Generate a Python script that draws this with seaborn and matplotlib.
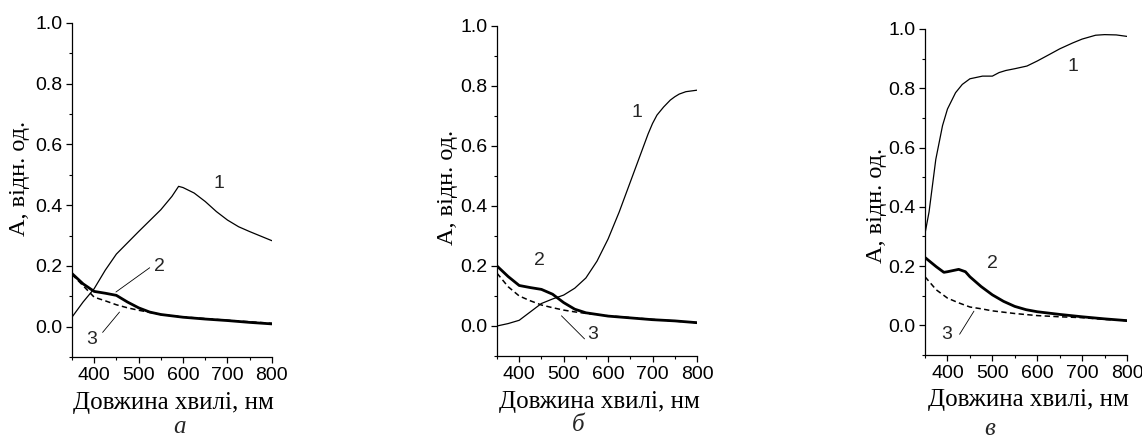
import numpy as np
import pandas as pd
import matplotlib
matplotlib.use('Agg')
import matplotlib.pyplot as plt
from matplotlib.ticker import MultipleLocator, FormatStrFormatter
import seaborn as sns

# ---- data (wavelength, nm / absorbance) ----
wl_a1 = [350, 375, 400, 425, 450, 475, 500, 525, 550, 575, 590, 600, 625, 650, 675, 700, 725, 750, 775, 800]
a1 = [0.031, 0.081, 0.125, 0.186, 0.239, 0.276, 0.313, 0.349, 0.385, 0.429, 0.462, 0.458, 0.44, 0.412, 0.379, 0.351, 0.329, 0.313, 0.298, 0.283]
wl_a2 = [350, 375, 400, 425, 450, 475, 500, 525, 550, 600, 650, 700, 750, 800]
a2 = [0.175, 0.141, 0.116, 0.110, 0.103, 0.081, 0.062, 0.048, 0.040, 0.031, 0.025, 0.020, 0.014, 0.009]
wl_a3 = [350, 375, 400, 425, 450, 475, 500, 525, 550, 600, 700, 800]
a3 = [0.172, 0.135, 0.097, 0.085, 0.072, 0.062, 0.054, 0.047, 0.040, 0.032, 0.021, 0.011]

wl_b1 = [350, 375, 400, 425, 450, 475, 500, 525, 550, 575, 600, 625, 650, 675, 690, 700, 710, 725, 740, 750, 760, 775, 800]
b1 = [0.0, 0.008, 0.019, 0.047, 0.075, 0.090, 0.103, 0.126, 0.160, 0.216, 0.290, 0.38, 0.48, 0.58, 0.64, 0.675, 0.703, 0.73, 0.753, 0.764, 0.773, 0.781, 0.786]
wl_b2 = [350, 375, 400, 425, 450, 475, 500, 525, 550, 600, 650, 700, 750, 800]
b2 = [0.200, 0.165, 0.135, 0.128, 0.122, 0.106, 0.078, 0.056, 0.044, 0.033, 0.027, 0.021, 0.017, 0.011]
wl_b3 = [350, 375, 400, 425, 450, 475, 500, 525, 550, 600, 700, 800]
b3 = [0.176, 0.131, 0.100, 0.084, 0.070, 0.061, 0.053, 0.047, 0.042, 0.034, 0.022, 0.011]

wl_c1 = [350, 359, 374, 389, 400, 418, 433, 450, 478, 500, 515, 530, 550, 577, 600, 627, 650, 679, 700, 730, 750, 776, 800]
c1 = [0.31, 0.383, 0.56, 0.674, 0.73, 0.785, 0.813, 0.832, 0.841, 0.841, 0.853, 0.86, 0.866, 0.875, 0.892, 0.914, 0.933, 0.953, 0.966, 0.979, 0.981, 0.98, 0.975]
wl_c2 = [350, 375, 392, 400, 425, 440, 450, 475, 500, 525, 550, 575, 600, 650, 700, 750, 800]
c2 = [0.229, 0.198, 0.179, 0.181, 0.189, 0.181, 0.164, 0.131, 0.103, 0.081, 0.064, 0.053, 0.046, 0.037, 0.029, 0.022, 0.016]
wl_c3 = [350, 375, 400, 425, 450, 475, 500, 550, 600, 650, 700, 750, 800]
c3 = [0.164, 0.120, 0.092, 0.076, 0.062, 0.056, 0.049, 0.040, 0.033, 0.029, 0.026, 0.020, 0.016]

panel_letters = ['а', 'б', 'в']
x_label = 'Довжина хвилі, нм'
y_label = 'A, відн. од.'

sns.set_theme(style='ticks')
plt.rcParams['font.family'] = ['Liberation Sans', 'DejaVu Sans']

fig = plt.figure(figsize=(11.42, 4.42), dpi=100)
fig.patch.set_facecolor('white')

panels = [
    dict(pos=[0.0630, 0.1923, 0.1751, 0.7557],
         curves=[(wl_a1, a1), (wl_a2, a2), (wl_a3, a3)],
         lab1=(680, 0.47), lab2=(547, 0.199), lab3=(395, -0.041),
         lead2=[(525, 0.194), (449, 0.114)], lead3=[(419, -0.019), (457, 0.048)],
         ylab=(-0.21, 0.536), letter=(180, 427)),
    dict(pos=[0.4352, 0.1946, 0.1751, 0.7466],
         curves=[(wl_b1, b1), (wl_b2, b2), (wl_b3, b3)],
         lab1=(665, 0.71), lab2=(446, 0.218), lab3=(566, -0.03),
         lead2=None, lead3=[(547, -0.043), (495, 0.034)],
         ylab=(-0.195, 0.51), letter=(578, 425)),
    dict(pos=[0.8100, 0.1968, 0.1769, 0.7376],
         curves=[(wl_c1, c1), (wl_c2, c2), (wl_c3, c3)],
         lab1=(679, 0.875), lab2=(500, 0.209), lab3=(398, -0.03),
         lead2=None, lead3=[(427, -0.03), (459, 0.048)],
         ylab=(-0.19, 0.46), letter=(990, 429)),
]

styles = [dict(lw=0.9, ls='-'), dict(lw=2.0, ls='-'), dict(lw=1.1, ls=(0, (3.5, 2.2)))]

for i, p in enumerate(panels):
    ax = fig.add_axes(p['pos'])
    for (wl, vals), st in zip(p['curves'], styles):
        df = pd.DataFrame({'wl': wl, 'A': vals})
        sns.lineplot(data=df, x='wl', y='A', ax=ax, color='black',
                     linewidth=st['lw'], linestyle=st['ls'])
    ax.set_xlim(350, 800)
    ax.set_ylim(-0.1, 1.0)
    ax.xaxis.set_major_locator(MultipleLocator(100))
    ax.xaxis.set_minor_locator(MultipleLocator(50))
    ax.yaxis.set_major_locator(MultipleLocator(0.2))
    ax.yaxis.set_minor_locator(MultipleLocator(0.1))
    ax.yaxis.set_major_formatter(FormatStrFormatter('%.1f'))
    ax.tick_params(which='major', direction='out', length=4, width=0.9,
                   labelsize=14, color='black', labelcolor='black', pad=3)
    ax.tick_params(which='minor', direction='out', length=2.5, width=0.8, color='black')
    for s in ['top', 'right']:
        ax.spines[s].set_visible(False)
    for s in ['left', 'bottom']:
        ax.spines[s].set_color('black')
        ax.spines[s].set_linewidth(0.9)
    ax.set_facecolor('white')
    ax.set_xlabel(x_label, family='Liberation Serif', fontsize=18, color='black')
    ax.set_ylabel(y_label, family='Liberation Serif', fontsize=17.5, color='black')
    ax.xaxis.set_label_coords(0.51, -0.105)
    ax.yaxis.set_label_coords(*p['ylab'])

    ax.text(*p['lab1'], '1', fontsize=14, ha='center', va='center')
    ax.text(*p['lab2'], '2', fontsize=14, ha='center', va='center')
    ax.text(*p['lab3'], '3', fontsize=14, ha='center', va='center')
    for lead in (p['lead2'], p['lead3']):
        if lead:
            ax.plot([lead[0][0], lead[1][0]], [lead[0][1], lead[1][1]], color='black', lw=0.6)

    fig.text(p['letter'][0] / 1142, 1 - p['letter'][1] / 442, panel_letters[i],
             family='Liberation Serif', style='italic', fontsize=18,
             ha='center', va='center')

fig.savefig('out.png', dpi=100, facecolor='white')
